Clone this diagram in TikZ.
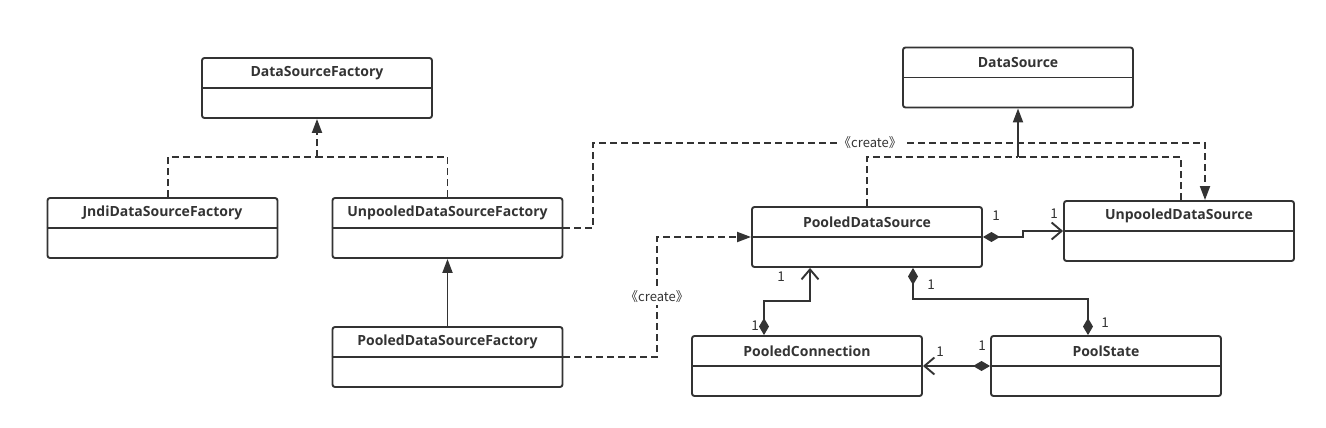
\documentclass[tikz,border=0pt]{standalone}
\usepackage{fontspec}
\setmainfont{Open Sans}
\newfontfamily\cjk{Noto Sans CJK SC}
\usetikzlibrary{arrows.meta,calc}
\definecolor{ink}{HTML}{333333}
\newcommand\umlclass[3]{%
  \node[cls] (#1) at (#2) {};
  \draw[ln] (#1.west) -- (#1.east);
  \node[ttl] (#1-t) at ($(#1.north)+(0,16)$) {#3};}
\begin{document}
\begin{tikzpicture}[x=1pt,y=-1pt,
  cls/.style={draw=ink, line width=1.9pt, rounded corners=2.5pt, minimum width=230pt, minimum height=60pt, inner sep=0pt, fill=white},
  ttl/.style={font=\bfseries\fontsize{14}{16}\selectfont, text=ink},
  ln/.style={draw=ink, line width=1.9pt},
  dsh/.style={ln, dash pattern=on 7pt off 4pt},
  tri/.style={-{Triangle[length=14pt,width=10pt]}},
  real/.style={dsh, tri},
  gen/.style={ln, tri},
  comp/.style={ln, {Diamond[length=17pt,width=10pt]}-{Straight Barb[length=10pt,width=17pt]}},
  mult/.style={font=\cjk\fontsize{13.5}{14}\selectfont, text=ink, inner sep=1pt},
  stereo/.style={font=\cjk\fontsize{13}{14}\selectfont, text=ink, fill=white, inner sep=1.5pt}]
\useasboundingbox (0,0) rectangle (1326,428);
\fill[white] (0,0) rectangle (1326,428);
% classes
\umlclass{dsf}{317,88}{DataSourceFactory}
\umlclass{jndi}{162.5,228}{JndiDataSourceFactory}
\umlclass{udsf}{447.5,228}{UnpooledDataSourceFactory}
\umlclass{pdsf}{447.5,357}{PooledDataSourceFactory}
\umlclass{ds}{1018,77.5}{DataSource}
\umlclass{pds}{867,237}{PooledDataSource}
\umlclass{uds}{1179,231}{UnpooledDataSource}
\umlclass{pc}{807,366}{PooledConnection}
\umlclass{ps}{1106,366}{PoolState}
% factory realizations
\coordinate (fork1) at (317,157);
\draw[dsh] ($(jndi.north)+(5.5,0)$) |- (fork1);
\draw[dsh] (udsf.north) |- (fork1);
\draw[real] (fork1) -- (dsf.south);
% generalization
\draw[gen] (pdsf.north) -- (udsf.south);
% create 1
\draw[real] (udsf.east) -| (593,143) -| ($(uds.north)+(26,0)$);
\node[stereo] (cr1) at (870,143) {《create》};
% create 2
\draw[real] (pdsf.east) -- (657,357) |- (pds.west);
\node[stereo] (cr2) at (657,297) {《create》};
% datasource realization
\coordinate (fork2) at (1018,157);
\draw[dsh] (pds.north) |- (fork2);
\draw[dsh] ($(uds.north)+(2,0)$) |- (fork2);
\draw[gen] (fork2) -- (ds.south);
% compositions
\draw[comp] (pds.east) -- ++(40,0) |- (uds.west);
\draw[comp] ($(pc.north)+(-43,0)$) |- ($(pds.south)+(-57,33)$) -- ($(pds.south)+(-57,0)$);
\draw[ln, {Diamond[length=17pt,width=10pt]}-{Diamond[length=17pt,width=10pt]}] ($(pds.south)+(46,0)$) |- ($(ps.north)+(-18,-36)$) -- ($(ps.north)+(-18,0)$);
\draw[comp] (ps.west) -- (pc.east);
% multiplicities
\node[mult] (m1) at (996,216) {1};
\node[mult] (m2) at (1054,214) {1};
\node[mult] (m3) at (781,277) {1};
\node[mult] (m4) at (755,326) {1};
\node[mult] (m5) at (931,285) {1};
\node[mult] (m6) at (1105,323) {1};
\node[mult] (m7) at (940,352) {1};
\node[mult] (m8) at (982,346) {1};
\end{tikzpicture}
\end{document}
